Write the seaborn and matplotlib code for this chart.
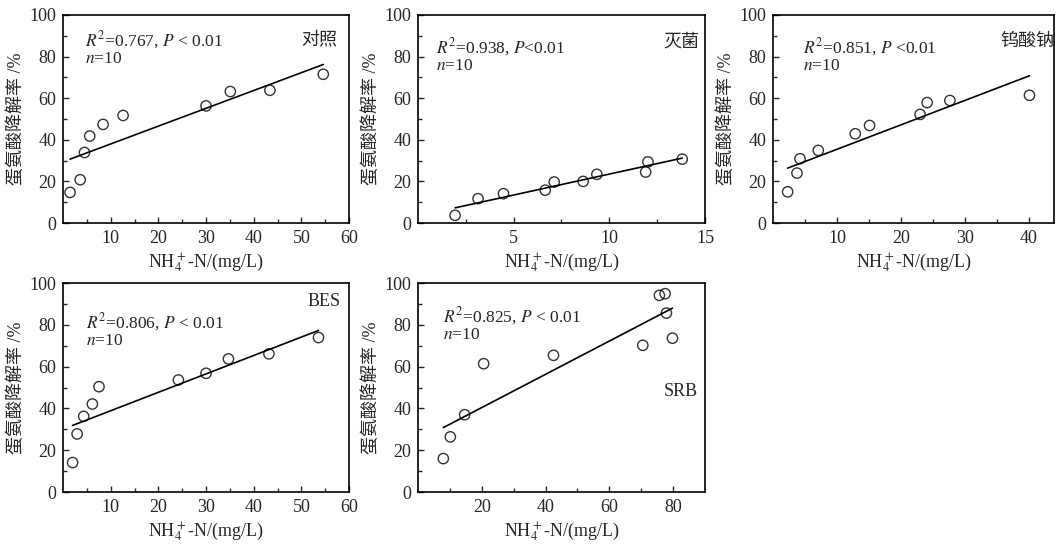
import matplotlib
matplotlib.use('Agg')
import matplotlib.pyplot as plt
import seaborn as sns
import numpy as np

# 对照
ctrl_x = [1.47, 3.6, 4.5, 5.6, 8.4, 12.6, 30.0, 35.1, 43.4, 54.6]
ctrl_y = [14.7, 20.8, 33.9, 41.8, 47.4, 51.7, 56.3, 63.2, 63.8, 71.5]

# 灭菌
ster_x = [1.94, 3.14, 4.47, 6.65, 7.12, 8.63, 9.35, 11.9, 12.02, 13.81]
ster_y = [3.7, 11.7, 14.1, 15.8, 19.7, 20.0, 23.4, 24.5, 29.4, 30.7]

# 钨酸钠
tung_x = [2.29, 3.75, 4.22, 7.08, 12.86, 15.1, 23.0, 24.1, 27.66, 40.1]
tung_y = [15.0, 24.0, 30.9, 34.9, 42.9, 46.9, 52.2, 57.9, 58.9, 61.4]

# BES
bes_x = [2.0, 2.95, 4.33, 6.15, 7.54, 24.2, 30.0, 34.7, 43.2, 53.6]
bes_y = [14.1, 27.8, 36.2, 42.1, 50.4, 53.6, 56.8, 63.7, 66.1, 73.9]

# SRB
srb_x = [7.95, 10.15, 14.65, 20.6, 42.5, 70.5, 75.7, 77.5, 77.9, 79.8]
srb_y = [16.0, 26.4, 37.0, 61.4, 65.4, 70.2, 94.1, 94.9, 85.6, 73.6]

names = ['对照', '灭菌', '钨酸钠', 'BES', 'SRB']
stats = [r'$R^2$=0.767, $P$ < 0.01', r'$R^2$=0.938, $P$<0.01',
         r'$R^2$=0.851, $P$ <0.01', r'$R^2$=0.806, $P$ < 0.01',
         r'$R^2$=0.825, $P$ < 0.01']

sns.set_style('ticks')
plt.rcParams['font.family'] = ['Liberation Serif', 'Noto Sans CJK SC']
plt.rcParams['mathtext.fontset'] = 'stix'
plt.rcParams['xtick.direction'] = 'in'
plt.rcParams['ytick.direction'] = 'in'

fig = plt.figure(figsize=(10.56, 5.45), dpi=100)

# left, bottom, width, height
boxes = [(0.0597, 0.5908, 0.2708, 0.3817),
         (0.3958, 0.5908, 0.2718, 0.3817),
         (0.7320, 0.5908, 0.2665, 0.3817),
         (0.0597, 0.0972, 0.2708, 0.3835),
         (0.3958, 0.0972, 0.2718, 0.3835)]
xlims = [(0, 60), (0, 15), (0, 44), (0, 60), (0, 90)]
xmajor = [np.arange(10, 61, 10), [5, 10, 15], np.arange(10, 41, 10),
          np.arange(10, 61, 10), np.arange(20, 81, 20)]
xminor = [np.arange(5, 60, 10), [2.5, 7.5, 12.5], np.arange(5, 44, 10),
          np.arange(5, 60, 10), np.arange(10, 90, 20)]
stat_pos = [(0.077, 0.93), (0.063, 0.90), (0.106, 0.90), (0.08, 0.865), (0.086, 0.895)]
name_pos = [(0.958, 0.918, 'top'), (0.98, 0.913, 'top'), (1.0, 0.913, 'top'),
            (0.97, 0.953, 'top'), (0.976, 0.48, 'center')]

data = [(ctrl_x, ctrl_y), (ster_x, ster_y), (tung_x, tung_y),
        (bes_x, bes_y), (srb_x, srb_y)]

for i, (x, y) in enumerate(data):
    ax = fig.add_axes(boxes[i])
    sns.regplot(x=np.array(x), y=np.array(y), ax=ax, ci=None, color='black',
                scatter_kws={'s': 55, 'facecolors': 'none', 'edgecolors': 'black',
                             'linewidths': 1.0, 'zorder': 3},
                line_kws={'linewidth': 1.2})
    ax.set_xlim(xlims[i])
    ax.set_ylim(0, 100)
    ax.set_xticks(xmajor[i])
    ax.set_xticks(xminor[i], minor=True)
    ax.set_yticks(np.arange(0, 101, 20))
    ax.set_yticks(np.arange(10, 100, 20), minor=True)
    ax.tick_params(which='major', length=4, width=1, labelsize=13, pad=5)
    ax.tick_params(which='minor', length=3, width=1)
    for sp in ax.spines.values():
        sp.set_linewidth(1.2)
        sp.set_color('black')
    ax.set_xlabel(r'NH$_4^+$-N/(mg/L)', fontsize=13, labelpad=3)
    ax.set_ylabel('蛋氨酸降解率 /%', fontsize=13, labelpad=3)
    sx, sy = stat_pos[i]
    ax.text(sx, sy, stats[i], transform=ax.transAxes, fontsize=12.5, va='top', ha='left')
    ax.text(sx, sy - 0.105, r'$n$=10', transform=ax.transAxes, fontsize=12.5, va='top', ha='left')
    nx, ny, va = name_pos[i]
    ax.text(nx, ny, names[i], transform=ax.transAxes, fontsize=13, va=va, ha='right')

fig.savefig('out.png', dpi=100)
